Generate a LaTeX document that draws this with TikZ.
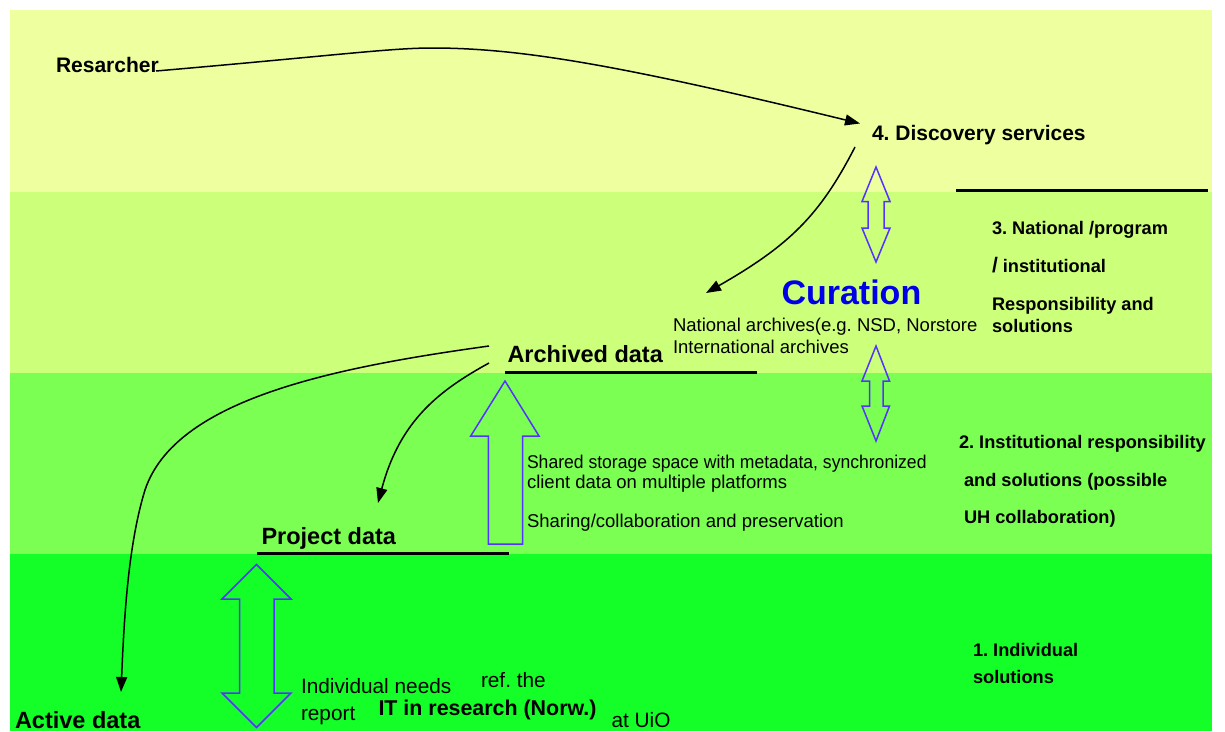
\documentclass[tikz,border=0pt]{standalone}
\usepackage{fontspec}
\usepackage{graphicx}
\setmainfont{Liberation Sans}
\usetikzlibrary{arrows.meta}
\definecolor{bandA}{RGB}{238,255,160}
\definecolor{bandB}{RGB}{204,255,122}
\definecolor{bandC}{RGB}{122,255,82}
\definecolor{bandD}{RGB}{20,255,40}
\definecolor{arrblue}{RGB}{85,51,255}
\definecolor{curblue}{RGB}{0,0,230}
\frenchspacing
\begin{document}
\begin{tikzpicture}[x=1pt,y=-1pt,
  lbl/.style={anchor=base west, inner sep=0pt, outer sep=0pt},
  bigt/.style={lbl, font=\bfseries\fontsize{23.5}{28}\selectfont},
  midt/.style={lbl, font=\bfseries\fontsize{21}{25}\selectfont},
  sidet/.style={lbl, font=\bfseries\fontsize{18.2}{22}\selectfont},
  notet/.style={lbl, font=\fontsize{18.5}{22}\selectfont},
  foott/.style={lbl, font=\fontsize{20.8}{24}\selectfont},
  conn/.style={draw=black, line width=1.5pt, -{Triangle[length=15pt,width=11pt]}},
  blk/.style={draw=arrblue, line width=1.5pt, line join=miter},
  uline/.style={draw=black, line width=3pt}]
\useasboundingbox (0,0) rectangle (1225,731);
\fill[white] (0,0) rectangle (1225,731);
% bands
\fill[bandA] (10,10) rectangle (1212,192);
\fill[bandB] (10,192) rectangle (1212,373);
\fill[bandC] (10,373) rectangle (1212,554);
\fill[bandD] (10,554) rectangle (1212,731);

% labels
\node[midt] (res) at (56,72) {Resarcher};
\node[midt] (disc) at (872,140) {4. Discovery services};
\node[lbl, font=\bfseries\fontsize{34}{40}\selectfont, text=curblue] (cur) at (781.5,304.5) {Curation};
\node[notet] (nat) at (673,331.5) {National archives(e.g. NSD, Norstore};
\node[notet] (intl) at (673,353) {International archives};
\node[bigt] (arch) at (507.5,362.5) {Archived data};
\node[bigt] (proj) at (261.5,544.5) {Project data};
\node[bigt] (act) at (15,728) {Active data};
\node[notet] (sh1) at (527,468) {\scalebox{0.95}[1]{Shared storage space with metadata, synchronized}};
\node[notet] (sh2) at (527,488.5) {client data on multiple platforms};
\node[notet] (sh3) at (527,527) {Sharing/collaboration and preservation};

\node[sidet] (l3a) at (992,234) {3. National /program};
\node[sidet] (l3b) at (992,272) {{\fontsize{21}{25}\selectfont /} institutional};
\node[sidet] (l3c) at (992,310) {Responsibility and};
\node[sidet] (l3d) at (992,332) {solutions};
\node[sidet] (l2a) at (959,448) {2. Institutional responsibility};
\node[sidet] (l2b) at (964,486) {and solutions (possible};
\node[sidet] (l2c) at (964,523) {UH collaboration)};
\node[sidet] (l1a) at (973,656) {1. Individual};
\node[sidet] (l1b) at (973,683) {solutions};

\node[foott] (ind) at (301,693.5) {Individual needs};
\node[foott] (rep) at (301,720) {report};
\node[foott] (ref) at (481,687) {ref. the};
\node[lbl, font=\bfseries\fontsize{21.4}{25}\selectfont] (itr) at (378.5,715.5) {IT in research (Norw.)};
\node[foott] (uio) at (611.5,727) {at UiO};

% underlines
\coordinate (ua1) at (505,372); \coordinate (ua2) at (757,372);
\coordinate (up1) at (257,553); \coordinate (up2) at (509,553);
\coordinate (ur1) at (956,190.5); \coordinate (ur2) at (1208,190.5);
\draw[uline] (ua1) -- (ua2);
\draw[uline] (up1) -- (up2);
\draw[uline] (ur1) -- (ur2);

% curved connectors
\coordinate (resout) at (156,71);
\coordinate (discin) at (860,123.5);
\coordinate (discout) at (855,147);
\coordinate (archin) at (706,293);
\coordinate (archout1) at (489,363);
\coordinate (archout2) at (489,346);
\coordinate (projin) at (378,503);
\coordinate (actin) at (121,692);
\draw[conn] (resout) .. controls (330,56) and (390,48) .. (432,48)
  .. controls (520,48) and (620,65) .. (discin);
\draw[conn] (discout) .. controls (820,215) and (790,245) .. (archin);
\draw[conn] (archout1) .. controls (440,390) and (400,420) .. (projin);
\draw[conn] (archout2) .. controls (330,368) and (175,400) .. (145,490)
  .. controls (128,545) and (124,620) .. (actin);

% block arrows
\draw[blk] (505,381) -- (539,436) -- (522.7,436) -- (522.7,544) -- (488.3,544)
  -- (488.3,436) -- (470.7,436) -- cycle;
\draw[blk] (256.5,564.5) -- (291,599) -- (274,599) -- (274,693) -- (291,693)
  -- (256.5,727.5) -- (222,693) -- (239.5,693) -- (239.5,599) -- (222,599) -- cycle;
\draw[blk] (876,167) -- (890,201.5) -- (884,201.5) -- (884,228) -- (890,228)
  -- (876,262) -- (862,228) -- (868,228) -- (868,201.5) -- (862,201.5) -- cycle;
\draw[blk] (876,346) -- (889.5,381) -- (883,381) -- (883,406) -- (889.5,406)
  -- (876,441) -- (862,406) -- (869.5,406) -- (869.5,381) -- (862,381) -- cycle;
\end{tikzpicture}
\end{document}
